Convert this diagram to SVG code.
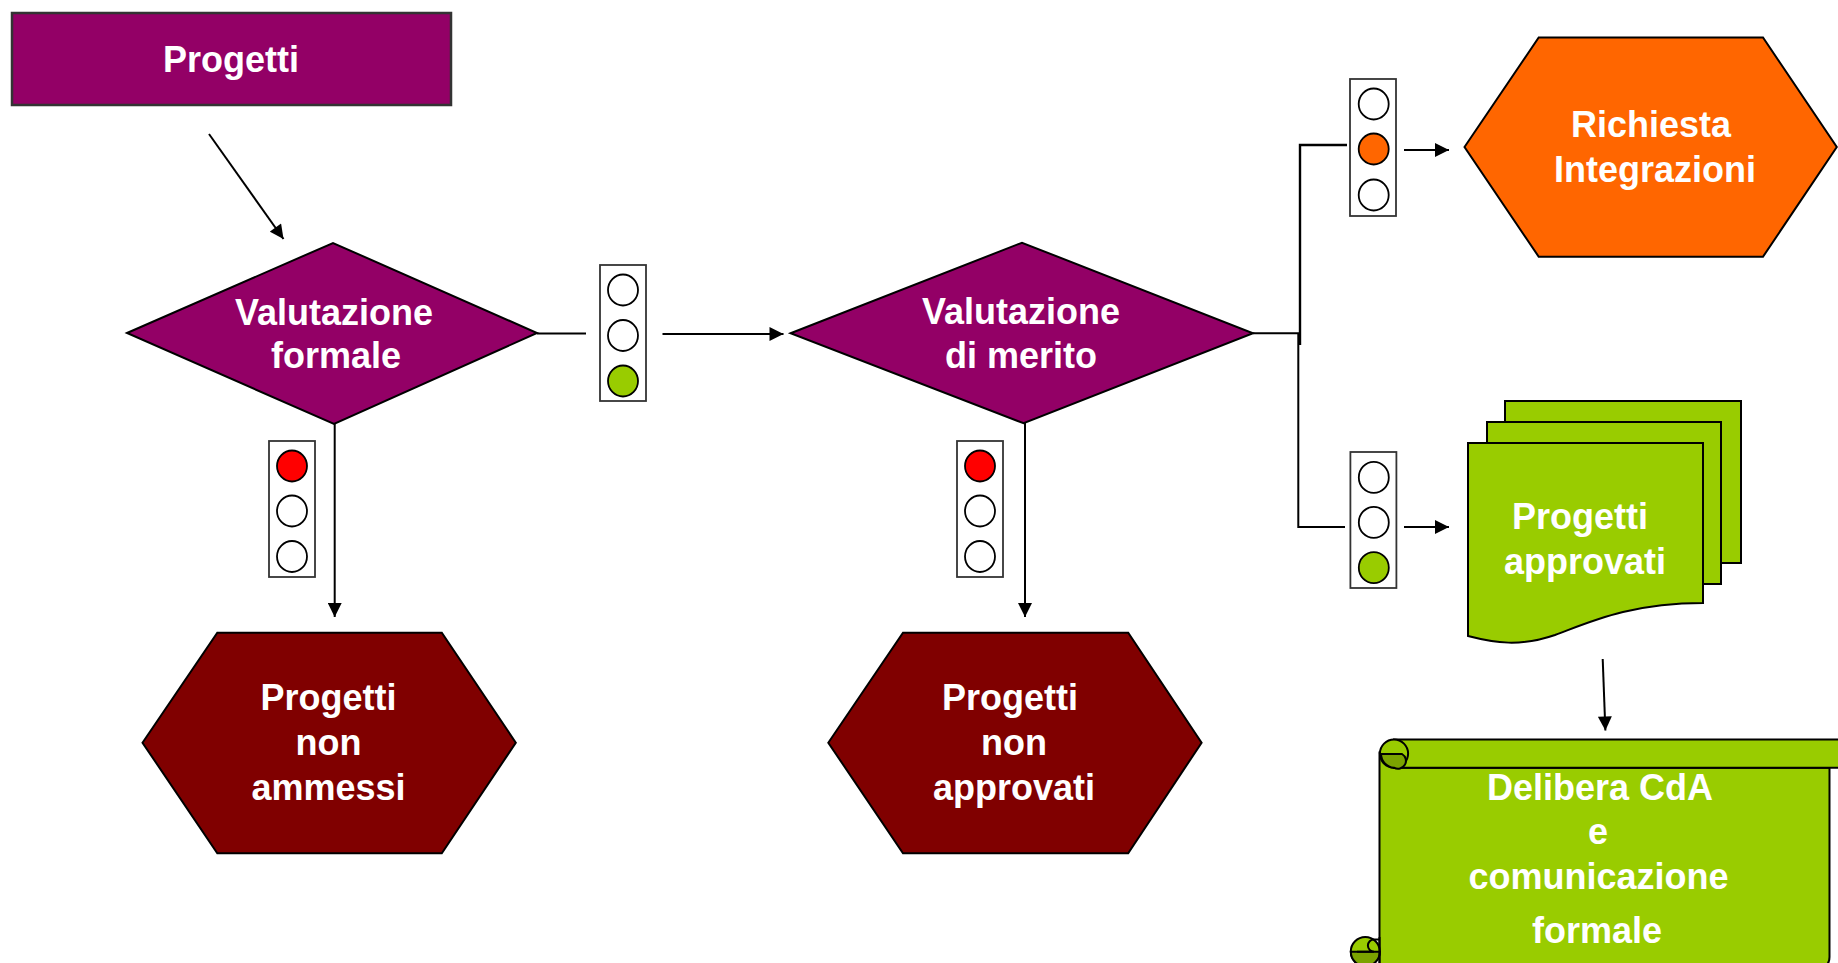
<svg xmlns="http://www.w3.org/2000/svg" width="1838" height="963" viewBox="0 0 1838 963">
<defs>
<style>
.t{font-family:"Liberation Sans",Arial,sans-serif;font-weight:bold;font-size:36px;fill:#ffffff;text-anchor:middle}
.sh{stroke:#000;stroke-width:2;stroke-linejoin:miter}
.pur{fill:#930066}
.red{fill:#800000}
.grn{fill:#99CC00}
.dk{fill:#7BA300}
.tlbox{fill:#fff;stroke:#333;stroke-width:1.8}
.lamp{fill:#fff;stroke:#000;stroke-width:1.8}
.con{fill:none;stroke:#000;stroke-width:2}
</style>
<marker id="ah" viewBox="0 0 10 10" refX="10" refY="5" markerWidth="15" markerHeight="14" markerUnits="userSpaceOnUse" orient="auto"><path d="M0,0 L10,5 L0,10 z" fill="#000"/></marker>
</defs>
<rect width="1838" height="963" fill="#fff"/>

<g id="connectors">
<line class="con" x1="209" y1="134" x2="283.5" y2="239" marker-end="url(#ah)"/>
<line class="con" x1="537" y1="333.5" x2="586" y2="333.5"/>
<line class="con" x1="662.5" y1="334" x2="783.5" y2="334" marker-end="url(#ah)"/>
<line class="con" x1="334.7" y1="424" x2="334.7" y2="617" marker-end="url(#ah)"/>
<line class="con" x1="1025" y1="423" x2="1025" y2="617" marker-end="url(#ah)"/>
<path class="con" d="M1253,333.3 H1298.3 V527 H1345"/>
<path class="con" d="M1300,345 V145 H1347" style="stroke-width:2.4"/>
<line class="con" x1="1404" y1="150" x2="1449" y2="150" marker-end="url(#ah)"/>
<line class="con" x1="1404" y1="527" x2="1449" y2="527" marker-end="url(#ah)"/>
<line class="con" x1="1602.7" y1="659" x2="1605.4" y2="730.5" marker-end="url(#ah)"/>
</g>

<g id="progetti">
<rect x="12" y="13" width="439" height="92" class="pur" stroke="#333" stroke-width="2.5"/>
<text class="t" x="231" y="72">Progetti</text>
</g>

<g id="valutazione-formale">
<polygon class="sh pur" points="127,333 333,243 537,333 334,424"/>
<text class="t" x="334" y="325">Valutazione</text>
<text class="t" x="336" y="368">formale</text>
</g>

<g id="valutazione-merito">
<polygon class="sh pur" points="790.6,333.3 1022,242.7 1253,333.3 1023.6,423.3"/>
<text class="t" x="1021" y="324">Valutazione</text>
<text class="t" x="1021" y="368">di merito</text>
</g>

<g id="semaforo-verde-1">
<rect class="tlbox" x="600" y="265" width="46" height="136"/>
<ellipse class="lamp" cx="623" cy="290" rx="15" ry="15.5"/>
<ellipse class="lamp" cx="623" cy="335.5" rx="15" ry="15.5"/>
<ellipse class="lamp" cx="623" cy="381" rx="15" ry="15.5" fill="#99CC00" style="fill:#99CC00"/>
</g>

<g id="semaforo-rosso-1">
<rect class="tlbox" x="269" y="441" width="46" height="136"/>
<ellipse class="lamp" cx="292" cy="466" rx="15" ry="15.5" style="fill:#FF0000"/>
<ellipse class="lamp" cx="292" cy="511" rx="15" ry="15.5"/>
<ellipse class="lamp" cx="292" cy="556.5" rx="15" ry="15.5"/>
</g>

<g id="semaforo-rosso-2">
<rect class="tlbox" x="957" y="441" width="46" height="136"/>
<ellipse class="lamp" cx="980" cy="466" rx="15" ry="15.5" style="fill:#FF0000"/>
<ellipse class="lamp" cx="980" cy="511" rx="15" ry="15.5"/>
<ellipse class="lamp" cx="980" cy="556.5" rx="15" ry="15.5"/>
</g>

<g id="semaforo-arancio">
<rect class="tlbox" x="1350" y="79" width="46" height="137"/>
<ellipse class="lamp" cx="1373.7" cy="104" rx="15" ry="15.5"/>
<ellipse class="lamp" cx="1373.7" cy="149" rx="15" ry="15.5" style="fill:#FF6600"/>
<ellipse class="lamp" cx="1373.7" cy="195" rx="15" ry="15.5"/>
</g>

<g id="semaforo-verde-2">
<rect class="tlbox" x="1350.4" y="452" width="46" height="136"/>
<ellipse class="lamp" cx="1373.8" cy="477.4" rx="15" ry="15.5"/>
<ellipse class="lamp" cx="1373.8" cy="522.4" rx="15" ry="15.5"/>
<ellipse class="lamp" cx="1373.8" cy="567.7" rx="15" ry="15.5" style="fill:#99CC00"/>
</g>

<g id="progetti-non-ammessi">
<polygon class="sh red" points="142.5,742.7 217.3,632.7 441.8,632.7 515.8,742.7 441.8,853.3 217.3,853.3"/>
<text class="t" x="328.5" y="710">Progetti</text>
<text class="t" x="328.5" y="755">non</text>
<text class="t" x="328.5" y="800">ammessi</text>
</g>

<g id="progetti-non-approvati">
<polygon class="sh red" points="828.3,742.7 903,632.7 1128.2,632.7 1201.6,742.7 1128.2,853.3 903,853.3"/>
<text class="t" x="1010" y="710">Progetti</text>
<text class="t" x="1014" y="755">non</text>
<text class="t" x="1014" y="800">approvati</text>
</g>

<g id="richiesta-integrazioni">
<polygon class="sh" fill="#FF6600" points="1464.5,147 1538.7,37.5 1763,37.5 1836.8,147 1763,256.7 1538.7,256.7"/>
<text class="t" x="1651" y="136.7">Richiesta</text>
<text class="t" x="1655" y="181.7">Integrazioni</text>
</g>

<g id="progetti-approvati">
<rect class="sh grn" x="1505" y="401" width="236" height="162"/>
<rect class="sh grn" x="1487" y="422" width="234" height="162"/>
<path class="sh grn" d="M1468,443 H1703 V603 C1630,603 1590,622 1555,635 C1520,647 1495,643 1468,636 Z"/>
<text class="t" x="1580" y="529">Progetti</text>
<text class="t" x="1585" y="574">approvati</text>
</g>

<g id="delibera-cda">
<path class="sh grn" d="M1379.5,753.6 V967 H1820 Q1829.5,967 1829.5,957 V767.7 H1394 Z"/>
<path class="sh grn" d="M1394,739.5 H1850 V767.7 H1394 Z"/>
<circle class="sh grn" cx="1394" cy="753.6" r="14.1"/>
<path class="sh dk" d="M1381,754 H1402 A7.6 7.6 0 0 1 1394,767.7 A14.1 14.1 0 0 1 1381,754 Z"/>
<circle class="sh grn" cx="1365.3" cy="951.5" r="14.5"/>
<path class="sh dk" d="M1350.8,951.7 A14.5 14.5 0 0 0 1379.8,951.7 Z"/>
<path class="sh" fill="none" d="M1379.6,939.5 H1374 A6 6 0 0 0 1374,951.7 H1357"/>
<line x1="1379.5" y1="937" x2="1379.5" y2="967" stroke="#000" stroke-width="2"/>
<text class="t" x="1600" y="800">Delibera CdA</text>
<text class="t" x="1598" y="844">e</text>
<text class="t" x="1598.5" y="888.5">comunicazione</text>
<text class="t" x="1597" y="943">formale</text>
</g>
</svg>
